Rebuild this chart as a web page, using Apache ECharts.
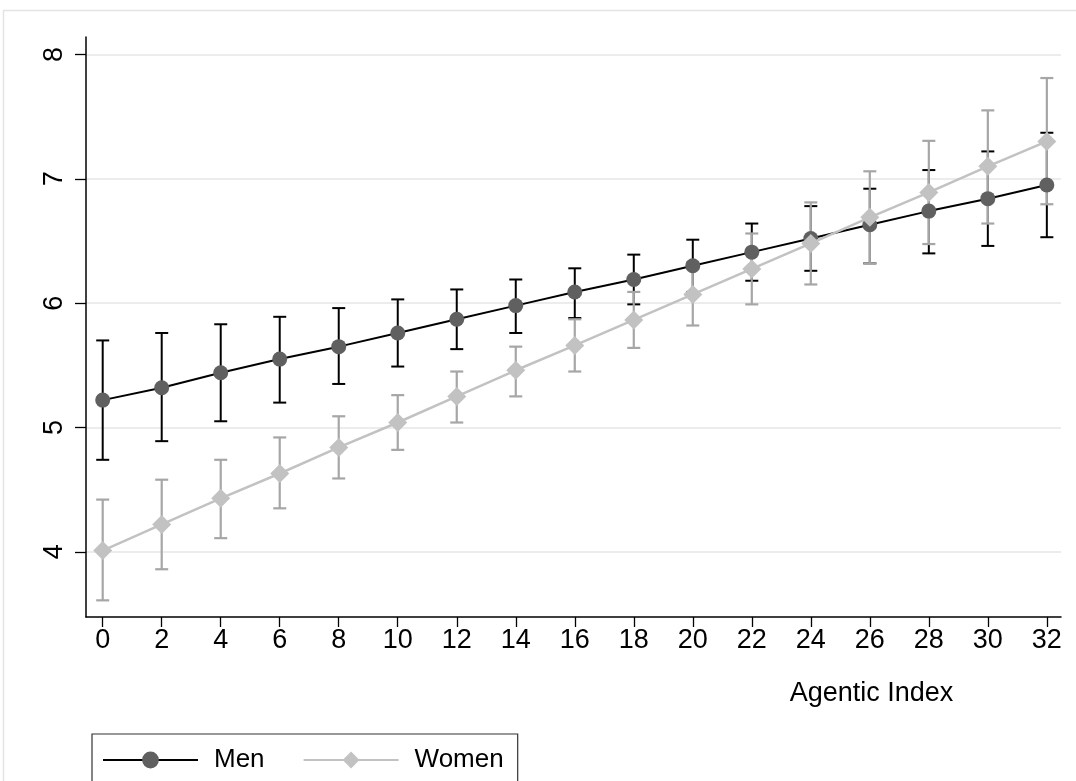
<!DOCTYPE html>
<html>
<head>
<meta charset="utf-8">
<script src="https://cdn.jsdelivr.net/npm/echarts@6/dist/echarts.min.js"></script>
<style>html,body{margin:0;padding:0;background:#fff;}#main{width:1076px;height:781px;}</style>
</head>
<body>
<div id="main"></div>
<script>
// ---- data ----
const agentic    = [0, 2, 4, 6, 8, 10, 12, 14, 16, 18, 20, 22, 24, 26, 28, 30, 32];
const menMean    = [5.22, 5.32, 5.44, 5.55, 5.65, 5.76, 5.87, 5.98, 6.09, 6.19, 6.30, 6.41, 6.52, 6.63, 6.74, 6.84, 6.95];
const menLow     = [4.74, 4.89, 5.05, 5.20, 5.35, 5.49, 5.63, 5.76, 5.88, 5.99, 6.09, 6.18, 6.26, 6.32, 6.40, 6.46, 6.53];
const menHigh    = [5.70, 5.76, 5.83, 5.89, 5.96, 6.03, 6.11, 6.19, 6.28, 6.39, 6.51, 6.64, 6.78, 6.92, 7.07, 7.22, 7.37];
const womenMean  = [4.01, 4.22, 4.43, 4.63, 4.84, 5.04, 5.25, 5.46, 5.66, 5.865, 6.07, 6.275, 6.48, 6.69, 6.89, 7.10, 7.30];
const womenLow   = [3.61, 3.86, 4.11, 4.35, 4.59, 4.82, 5.04, 5.25, 5.45, 5.64, 5.82, 5.99, 6.15, 6.32, 6.475, 6.64, 6.795];
const womenHigh  = [4.42, 4.58, 4.74, 4.92, 5.09, 5.26, 5.45, 5.65, 5.87, 6.09, 6.33, 6.56, 6.81, 7.06, 7.305, 7.55, 7.81];
const xTicks     = [0, 2, 4, 6, 8, 10, 12, 14, 16, 18, 20, 22, 24, 26, 28, 30, 32];
const yTicks     = [4, 5, 6, 7, 8];
const seriesNames = ['Men', 'Women'];
const xTitle     = 'Agentic Index';

const FONT = '"Liberation Sans", Arial, Helvetica, sans-serif';
const chart = echarts.init(document.getElementById('main'), null, {renderer: 'canvas'});

function errBar(color, width) {
  return function (params, api) {
    const x = api.value(0), lo = api.value(1), hi = api.value(2);
    const pHi = api.coord([x, hi]);
    const pLo = api.coord([x, lo]);
    const hw = 6.5;
    const style = {stroke: color, lineWidth: width};
    return {
      type: 'group',
      children: [
        {type: 'line', shape: {x1: pHi[0], y1: pHi[1], x2: pLo[0], y2: pLo[1]}, style: style},
        {type: 'line', shape: {x1: pHi[0] - hw, y1: pHi[1], x2: pHi[0] + hw, y2: pHi[1]}, style: style},
        {type: 'line', shape: {x1: pLo[0] - hw, y1: pLo[1], x2: pLo[0] + hw, y2: pLo[1]}, style: style}
      ]
    };
  };
}

const menCI = agentic.map((x, i) => [x, menLow[i], menHigh[i]]);
const womenCI = agentic.map((x, i) => [x, womenLow[i], womenHigh[i]]);
const menPts = agentic.map((x, i) => [x, menMean[i]]);
const womenPts = agentic.map((x, i) => [x, womenMean[i]]);

const option = {
  backgroundColor: '#ffffff',
  animation: false,
  textStyle: {fontFamily: FONT},
  graphic: [{
    type: 'rect', silent: true, z: -10,
    shape: {x: 3.5, y: 10.5, width: 1200, height: 900},
    style: {fill: null, stroke: '#e4e4e4', lineWidth: 1.5}
  }],
  grid: {left: 86, right: 15, top: 37, bottom: 164, containLabel: false},
  xAxis: {
    type: 'value', min: -0.566, max: 32.48,
    name: xTitle, nameLocation: 'middle', nameGap: 63,
    nameTextStyle: {fontFamily: FONT, fontSize: 27, color: '#000', padding: [0, 0, 0, 596]},
    axisLine: {show: true, onZero: false, lineStyle: {color: '#000', width: 1.5}},
    axisTick: {show: true, customValues: xTicks, length: 10, lineStyle: {color: '#000', width: 1.3}},
    axisLabel: {customValues: xTicks, margin: 10, fontFamily: FONT, fontSize: 27, color: '#000'},
    splitLine: {show: false}
  },
  yAxis: {
    type: 'value', min: 3.476, max: 8.14,
    axisLine: {show: true, onZero: false, lineStyle: {color: '#000', width: 1.5}},
    axisTick: {show: true, customValues: yTicks, length: 11, lineStyle: {color: '#000', width: 1.3}},
    axisLabel: {customValues: yTicks, rotate: 90, margin: 18, fontFamily: FONT, fontSize: 27, color: '#000'},
    splitLine: {show: true, lineStyle: {color: '#e6e6e6', width: 1.7}}
  },
  legend: {
    data: seriesNames,
    left: 92, top: 734,
    orient: 'horizontal',
    itemWidth: 95, itemHeight: 21, itemGap: 38,
    padding: [13, 14, 30, 10],
    borderColor: '#333', borderWidth: 1.2,
    textStyle: {fontFamily: FONT, fontSize: 26, color: '#000', padding: [0, 0, 0, 11]}
  },
  series: [
    {
      name: 'Men CI', type: 'custom', data: menCI,
      encode: {x: 0, y: [1, 2]}, renderItem: errBar('#000000', 2), z: 2, silent: true
    },
    {
      name: 'Women CI', type: 'custom', data: womenCI,
      encode: {x: 0, y: [1, 2]}, renderItem: errBar('#a6a6a6', 2.2), z: 3, silent: true
    },
    {
      name: seriesNames[0], type: 'line', data: menPts, z: 4,
      symbol: 'circle', symbolSize: 15,
      lineStyle: {color: '#000', width: 2},
      itemStyle: {color: '#606060', borderWidth: 0},
      color: '#606060'
    },
    {
      name: seriesNames[1], type: 'line', data: womenPts, z: 5,
      symbol: 'diamond', symbolSize: 19,
      lineStyle: {color: '#c2c2c2', width: 2.5},
      itemStyle: {color: '#c2c2c2', borderWidth: 0},
      color: '#c2c2c2'
    }
  ]
};
chart.setOption(option);
</script>
</body>
</html>
